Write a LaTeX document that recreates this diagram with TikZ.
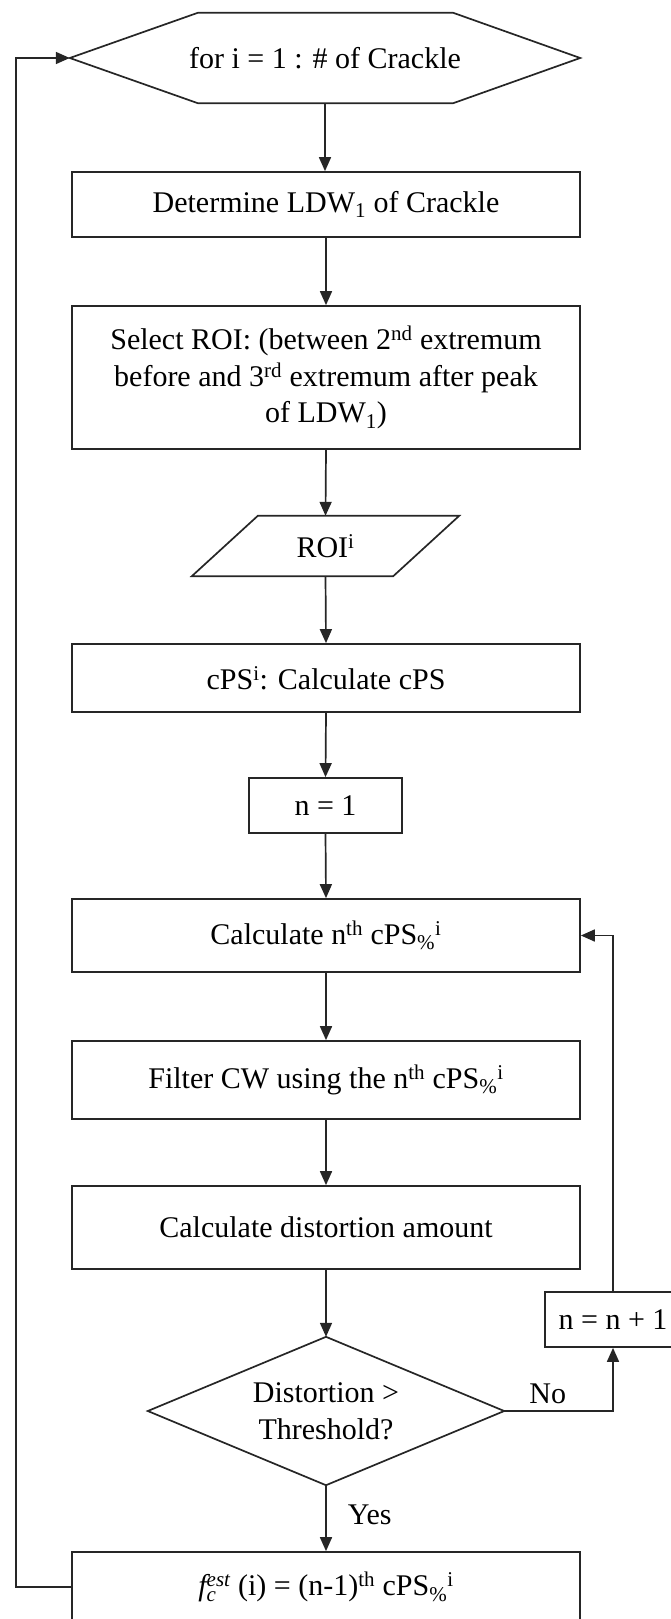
\documentclass[tikz,border=0pt]{standalone}
\usepackage{fontspec}
\setmainfont{Liberation Serif}
\usetikzlibrary{arrows.meta}
\begin{document}
\begin{tikzpicture}[x=1pt,y=-1pt,
  every node/.style={font=\fontsize{30}{36.7}\selectfont, inner sep=0pt},
  ln/.style={line width=1.7pt, draw=black!85},
  arr/.style={ln, -{Triangle[length=14pt,width=12pt]}},
  box/.style={draw=black!85, line width=1.7pt, minimum width=508pt, align=center},
  lbl/.style={font=\fontsize{30}{36}\selectfont}
]
\useasboundingbox (0,0) rectangle (670,1619);

% hexagon (loop header)
\node[minimum width=510pt, minimum height=90pt] (hex) at (325,58) {for i = 1 : \# of Crackle};
\draw[ln] (hex.west) -- ([xshift=128pt]hex.north west) -- ([xshift=-127pt]hex.north east)
  -- (hex.east) -- ([xshift=-127pt]hex.south east) -- ([xshift=128pt]hex.south west) -- cycle;

\node[box, minimum height=65pt] (b1) at (326,204.5) {Determine LDW\textsubscript{1} of Crackle};
\node[box, minimum height=143pt] (b2) at (326,377.5)
  {Select ROI: (between 2\textsuperscript{nd} extremum\\before and 3\textsuperscript{rd} extremum after peak\\of LDW\textsubscript{1})};

% parallelogram
\node[minimum width=201pt, minimum height=60pt] (roi) at (325.5,546) {ROI\textsuperscript{i}};
\draw[ln] ([xshift=33pt]roi.north west) -- ([xshift=33pt]roi.north east)
  -- ([xshift=-33pt]roi.south east) -- ([xshift=-33pt]roi.south west) -- cycle;

\node[box, minimum height=68pt] (b3) at (326,678) {cPS\textsuperscript{i}: Calculate cPS};
\node[box, minimum width=153pt, minimum height=55pt] (n1) at (325.5,805.5) {n = 1};
\node[box, minimum height=73pt] (b4) at (326,935.5) {Calculate n\textsuperscript{th} cPS\textsubscript{\%}\textsuperscript{i}};
\node[box, minimum height=78pt] (b5) at (326,1080) {Filter CW using the n\textsuperscript{th} cPS\textsubscript{\%}\textsuperscript{i}};
\node[box, minimum height=83pt] (b6) at (326,1227.5) {Calculate distortion amount};

% decision diamond
\node[minimum width=356pt, minimum height=148pt, align=center] (dec) at (326,1411) {Distortion \textgreater\\Threshold?};
\draw[ln] (dec.west) -- (dec.north) -- (dec.east) -- (dec.south) -- cycle;

\node[box, minimum width=136pt, minimum height=55pt] (nn) at (613,1319.5) {n = n + 1};
\node[box, minimum height=70pt] (fin) at (326,1587)
  {$\mathit{f}_{\mathit{c}}^{\mathit{est}}$ (i) = (n-1)\textsuperscript{th} cPS\textsubscript{\%}\textsuperscript{i}};

% connectors
\draw[arr] (hex.south) -- (b1.north -| hex.south);
\draw[arr] (b1.south) -- (b2.north);
\draw[arr] (b2.south) -- (roi.north);
\draw[arr] (roi.south) -- (b3.north);
\draw[arr] (b3.south) -- (n1.north);
\draw[arr] (n1.south) -- (b4.north);
\draw[arr] (b4.south) -- (b5.north);
\draw[arr] (b5.south) -- (b6.north);
\draw[arr] (b6.south) -- (dec.north);
\draw[arr] (dec.south) -- node[lbl, right=21pt, pos=0.45] (yes) {Yes} (fin.north);
\draw[arr] (dec.east) -- node[lbl, above=6pt, pos=0.4] (no) {No} (dec.east -| nn.south) -- (nn.south);
\draw[arr] (nn.north) |- (b4.east);

\coordinate (lb) at (16,1587);
\coordinate (lt) at (16,58);
\draw[arr] (fin.west) -- (lb) -- (lt) -- (hex.west);
\end{tikzpicture}
\end{document}
